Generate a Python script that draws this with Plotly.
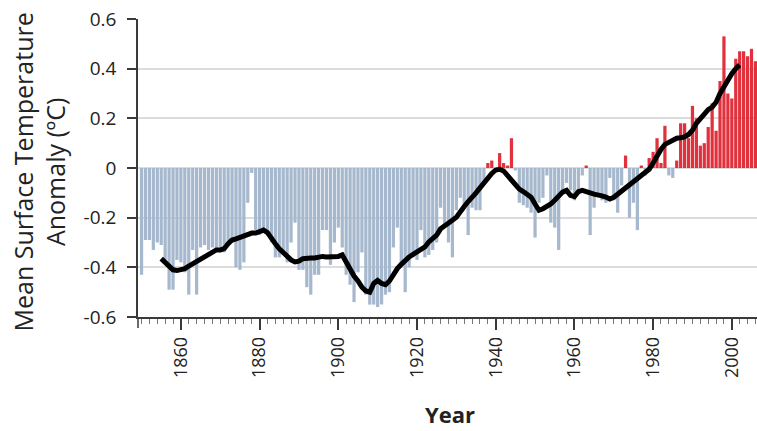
import plotly.graph_objects as go

years = list(range(1850, 2007))
anomaly = [
    -0.43, -0.29, -0.29, -0.33, -0.30, -0.31, -0.37, -0.49, -0.49, -0.37,   # 1850s
    -0.38, -0.42, -0.51, -0.33, -0.51, -0.32, -0.31, -0.33, -0.32, -0.33,   # 1860s
    -0.32, -0.34, -0.31, -0.30, -0.40, -0.41, -0.38, -0.14, -0.02, -0.25,   # 1870s
    -0.27, -0.25, -0.26, -0.30, -0.36, -0.36, -0.35, -0.38, -0.30, -0.22,   # 1880s
    -0.41, -0.41, -0.48, -0.51, -0.43, -0.43, -0.25, -0.25, -0.39, -0.30,   # 1890s
    -0.24, -0.32, -0.43, -0.47, -0.54, -0.42, -0.34, -0.51, -0.55, -0.55,   # 1900s
    -0.56, -0.55, -0.51, -0.50, -0.32, -0.24, -0.40, -0.50, -0.40, -0.36,   # 1910s
    -0.37, -0.25, -0.36, -0.35, -0.33, -0.30, -0.16, -0.23, -0.30, -0.36,   # 1920s
    -0.17, -0.12, -0.16, -0.27, -0.16, -0.17, -0.17, -0.06, 0.02, 0.03,     # 1930s
    0.00, 0.06, 0.02, 0.01, 0.12, -0.01, -0.14, -0.15, -0.16, -0.18,        # 1940s
    -0.28, -0.14, -0.12, -0.03, -0.22, -0.24, -0.33, -0.10, -0.06, -0.09,   # 1950s
    -0.13, -0.09, -0.03, 0.01, -0.27, -0.16, -0.11, -0.13, -0.14, -0.04,    # 1960s
    -0.13, -0.18, -0.07, 0.05, -0.20, -0.14, -0.25, 0.01, -0.03, 0.04,      # 1970s
    0.065, 0.12, 0.02, 0.17, -0.03, -0.04, 0.03, 0.18, 0.18, 0.12,          # 1980s
    0.25, 0.20, 0.09, 0.10, 0.165, 0.26, 0.15, 0.35, 0.53, 0.30,            # 1990s
    0.28, 0.44, 0.47, 0.47, 0.45, 0.48, 0.43,                               # 2000s
]

smooth_years = list(range(1855, 2003))
smooth_values = [
    -0.365, -0.38, -0.40, -0.41, -0.413,
    -0.41, -0.405, -0.395, -0.385, -0.375, -0.365, -0.358, -0.35, -0.338, -0.33,
    -0.33, -0.325, -0.305, -0.29, -0.285, -0.28, -0.27, -0.265, -0.262, -0.262,
    -0.255, -0.25, -0.26, -0.285, -0.305, -0.325, -0.34, -0.36, -0.37, -0.378,
    -0.375, -0.365, -0.362, -0.362, -0.362, -0.358, -0.356, -0.358, -0.359, -0.358,
    -0.356, -0.35, -0.38, -0.41, -0.435, -0.455, -0.48, -0.495, -0.50, -0.465,
    -0.453, -0.465, -0.47, -0.455, -0.425, -0.405, -0.388, -0.372, -0.358, -0.348,
    -0.338, -0.328, -0.318, -0.298, -0.285, -0.27, -0.245, -0.235, -0.222, -0.21,
    -0.198, -0.18, -0.155, -0.135, -0.12, -0.10, -0.08, -0.06, -0.04, -0.022,
    -0.008, -0.005, -0.012, -0.03, -0.05, -0.07, -0.085, -0.095, -0.105, -0.118,
    -0.145, -0.17, -0.164, -0.155, -0.145, -0.13, -0.115, -0.097, -0.09, -0.11,
    -0.115, -0.095, -0.09, -0.097, -0.10, -0.105, -0.107, -0.112, -0.117, -0.125,
    -0.118, -0.105, -0.093, -0.078, -0.065, -0.055, -0.04, -0.025, -0.016, -0.005,
    0.02, 0.05, 0.075, 0.095, 0.105, 0.115, 0.12, 0.122, 0.125, 0.135,
    0.152, 0.18, 0.20, 0.22, 0.235, 0.245, 0.265, 0.30, 0.33, 0.355,
    0.38, 0.40, 0.415,
]

y_ticks = [-0.6, -0.4, -0.2, 0, 0.2, 0.4, 0.6]
y_tick_labels = ["-0.6", "-0.4", "-0.2", "0", "0.2", "0.4", "0.6"]

BLUE = "#a6b8cd"
RED = "#e0313d"
colors = [RED if v > 0 else BLUE for v in anomaly]

fig = go.Figure()
fig.add_trace(go.Bar(x=years, y=anomaly, marker=dict(color=colors, line=dict(width=0)),
                     hoverinfo="x+y"))
fig.add_trace(go.Scatter(x=smooth_years, y=smooth_values, mode="lines",
                         line=dict(color="black", width=5), hoverinfo="skip"))

TXT = "#222222"
AX = "#3a3a3a"
fig.update_layout(
    width=757, height=431,
    margin=dict(l=138, r=0, t=19, b=114),
    paper_bgcolor="white", plot_bgcolor="white",
    showlegend=False, bargap=0.18,
    font=dict(family="Open Sans, sans-serif", color=TXT),
    xaxis=dict(
        range=[1849.1, 2006.4], tick0=1860, dtick=20, ticks="outside", ticklen=11,
        tickwidth=1.5, tickcolor=AX, tickangle=-90, tickfont=dict(size=18, color=TXT),
        showline=True, linecolor=AX, linewidth=1.5, showgrid=False, zeroline=False,
        minor=dict(tick0=1850, dtick=2, ticks="outside", ticklen=5, tickcolor="#777",
                   tickwidth=1, showgrid=False),
    ),
    yaxis=dict(
        range=[-0.6, 0.6], tickvals=y_ticks, ticktext=y_tick_labels, ticks="outside",
        ticklen=9, tickwidth=1.5, tickcolor=AX, tickfont=dict(size=19, color=TXT),
        ticklabelstandoff=7,
        showline=True, linecolor=AX, linewidth=1.5, showgrid=True, gridcolor="#dcdcdc",
        gridwidth=1.5, zeroline=False,
    ),
    shapes=[dict(type="line", xref="paper", yref="paper", x0=0, x1=0, y0=0, y1=-0.037,
                 line=dict(color=AX, width=1.5))],
    annotations=[
        dict(text="Mean Surface Temperature<br>Anomaly (ºC)", textangle=-90,
             xref="paper", yref="paper", x=-(138 - 39) / 619, y=0.485,
             xanchor="center", yanchor="middle", showarrow=False, align="center",
             font=dict(size=25, color=TXT)),
        dict(text="<b>Year</b>", xref="paper", yref="paper", x=(450 - 138) / 619,
             y=-(414 - 317) / 298, xanchor="center", yanchor="middle", showarrow=False,
             font=dict(size=22, color=TXT)),
    ],
)

fig.write_html("out.html", config={"displayModeBar": False},
               post_script="document.body.style.margin='0';document.body.style.overflow='hidden';")
